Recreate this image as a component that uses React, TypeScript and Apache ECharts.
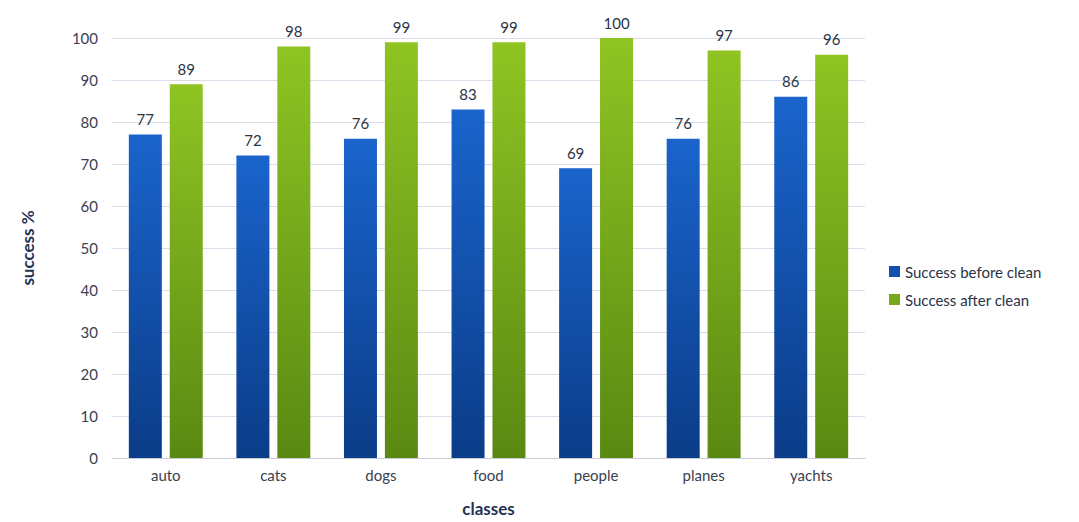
import React, { useEffect, useRef } from "react";
import * as echarts from "echarts";

const categories = ["auto", "cats", "dogs", "food", "people", "planes", "yachts"];
const beforeClean = [77, 72, 76, 83, 69, 76, 86];
const afterClean = [89, 98, 99, 99, 100, 97, 96];
const seriesNames = ["Success before clean", "Success after clean"];

export default function App() {
  const ref = useRef<HTMLDivElement>(null);
  useEffect(() => {
    if (!ref.current) return;
    const chart = echarts.init(ref.current, null, { renderer: "svg" });
    const font = "Lato, 'Noto Sans', sans-serif";
    const blue = new echarts.graphic.LinearGradient(0, 0, 0, 1, [
      { offset: 0, color: "#1a64cc" },
      { offset: 1, color: "#0b3c88" },
    ]);
    const green = new echarts.graphic.LinearGradient(0, 0, 0, 1, [
      { offset: 0, color: "#8fc423" },
      { offset: 1, color: "#5a8912" },
    ]);
    chart.setOption({
      animation: false,
      backgroundColor: "#ffffff",
      textStyle: { fontFamily: font },
      legend: {
        orient: "vertical",
        left: 884,
        top: 259,
        itemWidth: 11,
        itemHeight: 11,
        itemGap: 13,
        icon: "rect",
        textStyle: { fontSize: 15, color: "#2a3445", fontFamily: font },
        data: [
          { name: seriesNames[0], itemStyle: { color: "#1450b0" } },
          { name: seriesNames[1], itemStyle: { color: "#76a81a" } },
        ],
      },
      grid: { left: 112, right: 214, top: 38, bottom: 50 },
      xAxis: {
        type: "category",
        data: categories,
        name: "classes",
        nameLocation: "middle",
        nameGap: 42,
        nameTextStyle: { fontSize: 17, fontWeight: "bold", color: "#1f3254", fontFamily: font },
        axisLine: { lineStyle: { color: "#c8ccd6" } },
        axisTick: { show: false },
        axisLabel: { fontSize: 15, color: "#3a4150", margin: 9 },
      },
      yAxis: {
        type: "value",
        min: 0,
        max: 100,
        interval: 10,
        name: "success %",
        nameLocation: "middle",
        nameGap: 76,
        nameTextStyle: { fontSize: 17, fontWeight: "bold", color: "#1f3254", fontFamily: font },
        axisLine: { show: false },
        axisTick: { show: false },
        axisLabel: { fontSize: 15, color: "#3a4150", margin: 14 },
        splitLine: { lineStyle: { color: "#d9deea", width: 1 } },
      },
      series: [
        {
          name: seriesNames[0],
          type: "bar",
          data: beforeClean,
          barWidth: 33,
          barGap: "24%",
          itemStyle: { color: blue },
          label: { show: true, position: "top", fontSize: 15, color: "#2a3445", distance: 8 },
        },
        {
          name: seriesNames[1],
          type: "bar",
          data: afterClean,
          barWidth: 33,
          barGap: "24%",
          itemStyle: { color: green },
          label: { show: true, position: "top", fontSize: 15, color: "#2a3445", distance: 8 },
        },
      ],
    });
    return () => chart.dispose();
  }, []);
  return (
    <div
      ref={ref}
      style={{ position: "absolute", left: 0, top: 0, width: 1079, height: 522 }}
    />
  );
}
